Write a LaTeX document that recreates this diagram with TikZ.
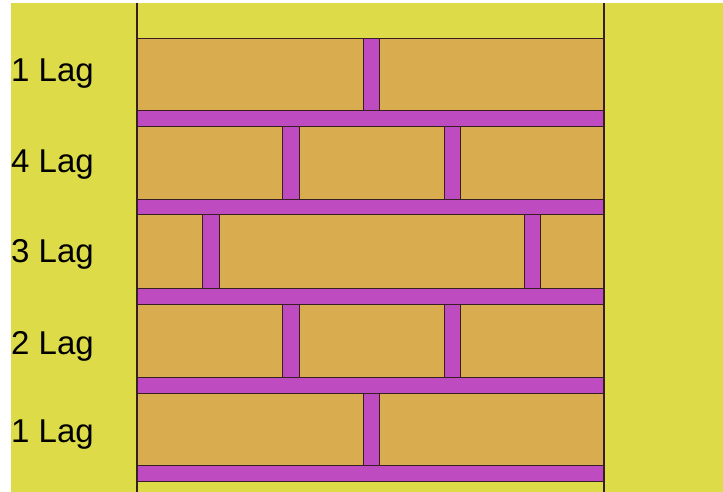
\documentclass[tikz,border=0pt]{standalone}
\usepackage{fontspec}
\setmainfont{Liberation Sans}
\definecolor{bgyellow}{RGB}{221,219,72}
\definecolor{brick}{RGB}{218,172,80}
\definecolor{mortar}{RGB}{190,76,192}
\definecolor{edge}{RGB}{55,30,35}
\begin{document}
\begin{tikzpicture}[x=1pt,y=-1pt,
  brickrow/.style={fill=brick,draw=edge,line width=0.8pt},
  mortarbed/.style={fill=mortar,draw=edge,line width=0.8pt},
  lab/.style={anchor=base west,inner sep=0pt,font=\fontsize{33}{33}\selectfont}]
\useasboundingbox (0,0) rectangle (723,492);
\fill[white] (0,0) rectangle (723,492);
\fill[bgyellow] (11,3) rectangle (723,492);
% courses (bricks)
\foreach \t/\b in {38/110,126/199,214/288,304/377,393/465}
  \filldraw[brickrow] (137,\t) rectangle (604,\b);
% bed joints
\foreach \t/\b in {110/126,199/214,288/304,377/393,465/481}
  \filldraw[mortarbed] (137,\t) rectangle (604,\b);
% head joints
\filldraw[mortarbed] (363,38) rectangle (379,110);
\filldraw[mortarbed] (282,126) rectangle (299,199);
\filldraw[mortarbed] (444,126) rectangle (460,199);
\filldraw[mortarbed] (202,214) rectangle (219,288);
\filldraw[mortarbed] (524,214) rectangle (540,288);
\filldraw[mortarbed] (282,304) rectangle (299,377);
\filldraw[mortarbed] (444,304) rectangle (460,377);
\filldraw[mortarbed] (363,393) rectangle (379,465);
% side lines
\draw[edge,line width=1.2pt] (137,3) -- (137,492);
\draw[edge,line width=1.2pt] (604,3) -- (604,492);
% labels
\node[lab] (l1) at (11,82) {1 Lag};
\node[lab] (l4) at (11,172) {4 Lag};
\node[lab] (l3) at (11,262) {3 Lag};
\node[lab] (l2) at (11,354) {2 Lag};
\node[lab] (l0) at (11,442) {1 Lag};
\end{tikzpicture}
\end{document}
